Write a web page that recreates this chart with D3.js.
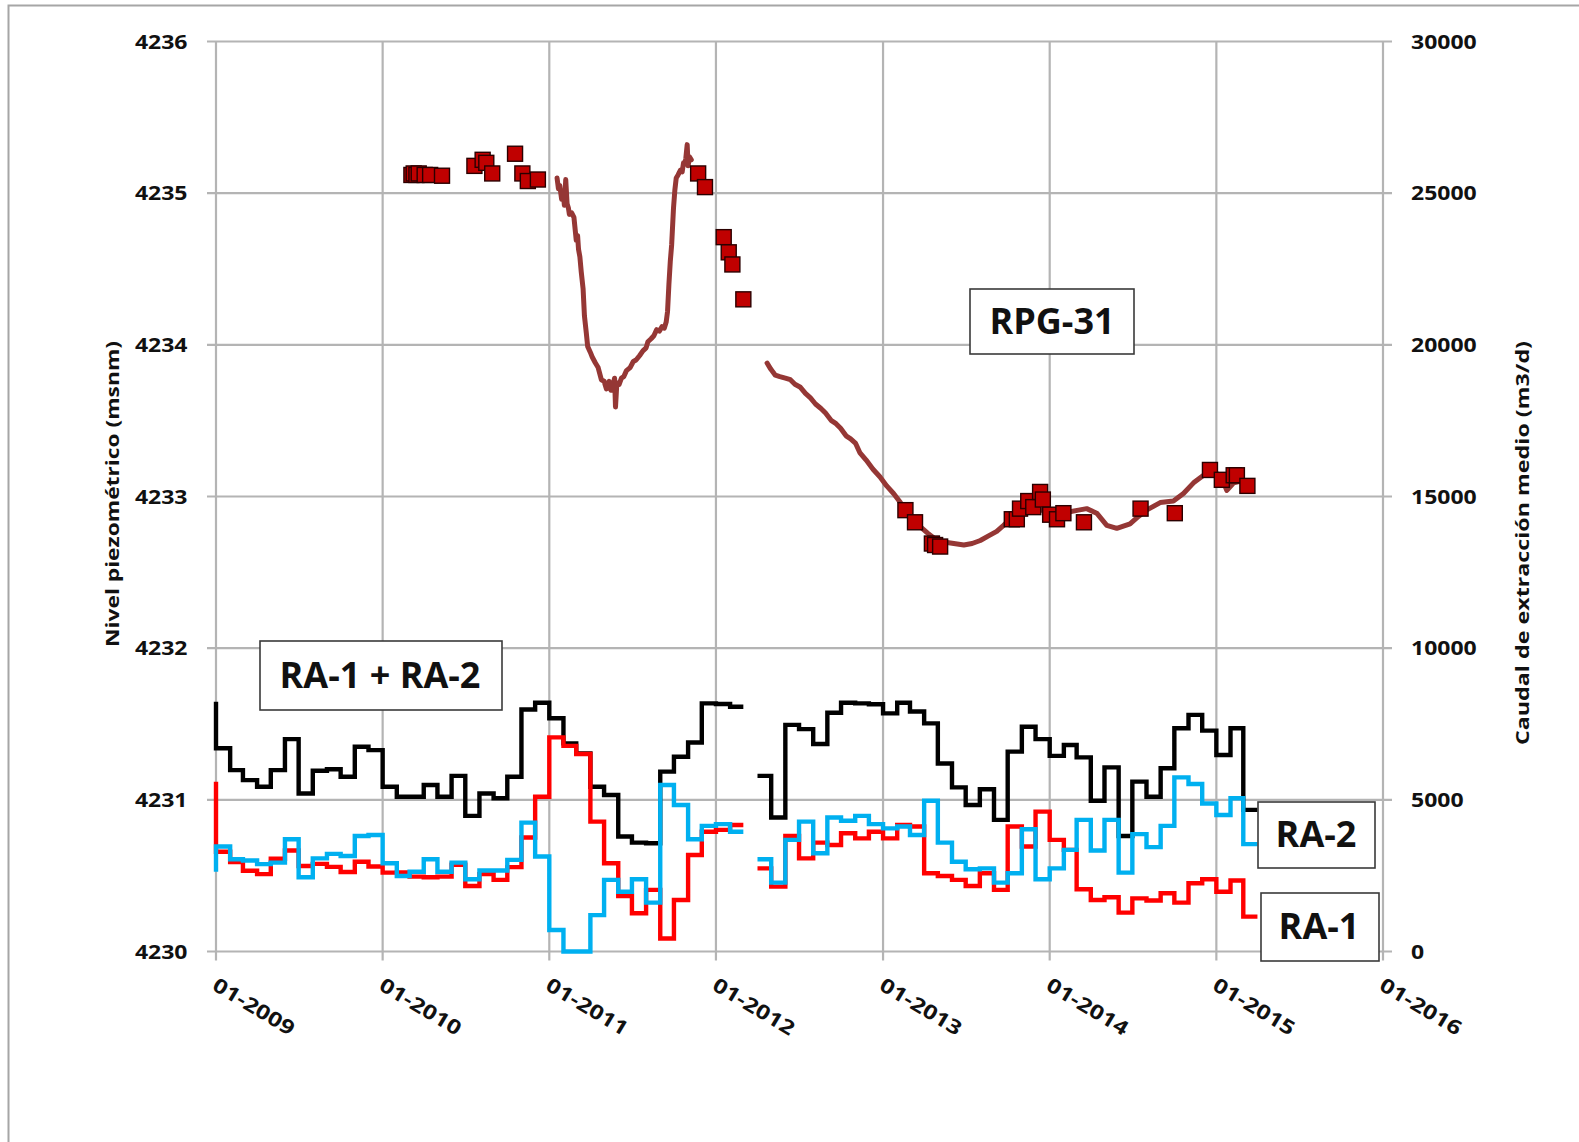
<!DOCTYPE html>
<html><head><meta charset="utf-8">
<script src="https://cdn.jsdelivr.net/npm/d3@7"></script>
<style>body{margin:0;background:#fff} svg{display:block}</style>
</head><body>
<script>
// ---------- DATA ----------
const leftTicks = [4230, 4231, 4232, 4233, 4234, 4235, 4236];
const rightTicks = [0, 5000, 10000, 15000, 20000, 25000, 30000];
const yearTicks = ["2009-01-01","2010-01-01","2011-01-01","2012-01-01","2013-01-01","2014-01-01","2015-01-01","2016-01-01"];
const yearLabels = ["01-2009","01-2010","01-2011","01-2012","01-2013","01-2014","01-2015","01-2016"];

// monthly extraction (m3/d), first month = 01-2009; spike = first instant value
const stepStartMonth = "2009-01-01";
const ra12Spike = 8236, ra1Spike = 5600, ra2Spike = 2630;
const ra12 = [6700,5980,5650,5430,5980,7000,5210,5960,6010,5760,6750,6640,
              5430,5100,5100,5490,5100,5790,4470,5210,5050,5760,7980,8200,
              7690,6860,6530,5430,5160,3790,3590,3570,5930,6420,6890,8180,
              8160,8070,null,5790,4420,7470,7330,6840,7870,8200,8180,8150,
              7850,8200,7910,7520,6200,5410,4830,5350,4340,6590,7410,7000,
              6450,6810,6400,4970,6070,3810,5600,5100,6040,7360,7800,7280,
              6480,7360,4670];
const ra1 = [3290,2950,2660,2550,3060,3330,2820,2890,2790,2620,2960,2800,
             2600,2610,2470,2450,2470,2860,2160,2550,2360,2780,3760,5100,
             7060,6780,6510,4280,2910,1830,1260,2030,430,1700,3180,3950,
             4010,4170,null,2740,2140,3810,3070,3590,3510,3900,3730,3950,
             3730,4170,4120,2580,2490,2360,2160,2580,2030,4120,3460,4610,
             3680,3350,2050,1700,1790,1280,1750,1680,1920,1610,2250,2380,
             1970,2340,1150];
const ra2 = [3460,3040,3000,2880,2930,3700,2450,3070,3220,3150,3810,3840,
             2910,2490,2630,3040,2630,2930,2380,2670,2670,3020,4250,3130,
             710,0,0,1200,2360,1970,2380,1610,5490,4830,3700,4140,
             4200,3950,null,3040,2270,3680,4280,3240,4420,4310,4470,4200,
             4060,4120,3840,4970,3590,2960,2710,2740,2270,2580,4030,2380,
             2740,3350,4340,3330,4340,2600,3870,3440,4140,5740,5520,4880,
             4500,5050,3540];

// RPG-31 continuous level (msnm)
const loggerDates1 = ["2011-01-18","2011-01-21","2011-01-24","2011-01-28","2011-02-01","2011-02-03","2011-02-06","2011-02-09","2011-02-12","2011-02-14","2011-02-19","2011-02-24","2011-03-01","2011-03-04","2011-03-06","2011-03-09","2011-03-12","2011-03-16","2011-03-19","2011-03-23","2011-03-26","2011-04-01","2011-04-05","2011-04-12","2011-04-18","2011-04-25","2011-05-01","2011-05-06","2011-05-12","2011-05-16","2011-05-20","2011-05-24","2011-05-26","2011-05-29","2011-06-03","2011-06-08","2011-06-13","2011-06-19","2011-06-27","2011-07-04","2011-07-10","2011-07-18","2011-07-25","2011-08-01","2011-08-05","2011-08-12","2011-08-18","2011-08-24","2011-08-30","2011-09-05","2011-09-10","2011-09-14","2011-09-17","2011-09-20","2011-09-23","2011-09-26","2011-09-30","2011-10-03","2011-10-06","2011-10-10","2011-10-15","2011-10-19","2011-10-22","2011-10-25","2011-10-27","2011-10-30","2011-11-01","2011-11-04","2011-11-08"];
const loggerLevels1 = [4235.10,4235.03,4235.05,4234.96,4234.99,4234.92,4235.09,4234.93,4234.90,4234.86,4234.87,4234.84,4234.69,4234.72,4234.63,4234.58,4234.48,4234.37,4234.19,4234.08,4233.99,4233.95,4233.92,4233.88,4233.85,4233.77,4233.76,4233.71,4233.76,4233.70,4233.73,4233.78,4233.59,4233.75,4233.74,4233.78,4233.79,4233.83,4233.85,4233.89,4233.90,4233.93,4233.96,4233.98,4234.02,4234.04,4234.06,4234.10,4234.09,4234.12,4234.11,4234.15,4234.22,4234.40,4234.55,4234.66,4234.90,4235.02,4235.10,4235.12,4235.15,4235.14,4235.20,4235.19,4235.23,4235.32,4235.18,4235.24,4235.22];
const loggerDates2 = ["2012-04-22","2012-04-30","2012-05-10","2012-05-20","2012-06-01","2012-06-12","2012-06-22","2012-07-04","2012-07-15","2012-07-26","2012-08-06","2012-08-18","2012-08-28","2012-09-10","2012-09-20","2012-09-30","2012-10-12","2012-10-22","2012-11-02","2012-11-11","2012-11-25","2012-12-10","2012-12-25","2013-01-09","2013-01-24","2013-02-08","2013-02-22","2013-03-09","2013-03-24","2013-04-08","2013-04-25","2013-05-14","2013-06-05","2013-06-27","2013-07-15","2013-08-02","2013-08-20","2013-09-07","2013-09-22","2013-10-06","2013-10-24","2013-11-11","2013-12-01","2013-12-25","2014-01-20","2014-02-14","2014-03-05","2014-03-23","2014-04-14","2014-05-06","2014-05-28","2014-06-26","2014-07-15","2014-08-01","2014-08-31","2014-09-29","2014-10-21","2014-11-12","2014-12-04","2014-12-26","2015-01-10","2015-01-17","2015-01-24","2015-02-08","2015-02-22"];
const loggerLevels2 = [4233.88,4233.84,4233.80,4233.79,4233.78,4233.77,4233.74,4233.72,4233.68,4233.65,4233.61,4233.58,4233.55,4233.50,4233.48,4233.45,4233.40,4233.38,4233.35,4233.29,4233.24,4233.18,4233.13,4233.07,4233.02,4232.96,4232.91,4232.85,4232.80,4232.76,4232.72,4232.70,4232.69,4232.68,4232.69,4232.71,4232.74,4232.77,4232.81,4232.85,4232.88,4232.91,4232.91,4232.91,4232.90,4232.90,4232.91,4232.92,4232.89,4232.81,4232.79,4232.82,4232.87,4232.91,4232.96,4232.97,4233.02,4233.09,4233.14,4233.16,4233.14,4233.09,4233.04,4233.09,4233.10];

// RPG-31 manual measurements (msnm)
const obsDates = ["2010-03-05","2010-03-10","2010-03-16","2010-03-21","2010-04-03","2010-04-15","2010-05-11","2010-07-21","2010-08-08","2010-08-16","2010-08-29","2010-10-18","2010-11-03","2010-11-15","2010-12-07","2011-11-23","2011-12-08","2012-01-18","2012-01-29","2012-02-06","2012-03-01","2013-02-19","2013-03-12","2013-04-18","2013-04-25","2013-05-06","2013-10-10","2013-10-21","2013-10-28","2013-11-15","2013-11-26","2013-12-11","2013-12-17","2014-01-02","2014-01-17","2014-01-31","2014-03-17","2014-07-19","2014-10-02","2014-12-18","2015-01-13","2015-02-08","2015-02-15","2015-03-10"];
const obsLevels = [4235.12,4235.13,4235.12,4235.13,4235.12,4235.12,4235.115,4235.18,4235.22,4235.20,4235.13,4235.26,4235.13,4235.08,4235.09,4235.13,4235.04,4234.71,4234.61,4234.53,4234.30,4232.91,4232.83,4232.69,4232.68,4232.67,4232.85,4232.85,4232.92,4232.97,4232.93,4233.03,4232.98,4232.88,4232.85,4232.89,4232.83,4232.92,4232.89,4233.175,4233.11,4233.14,4233.14,4233.07];

// ---------- DRAWING ----------
const W = 1579, H = 1142;
const svg = d3.select("body").append("svg").attr("width", W).attr("height", H);
const parse = d3.timeParse("%Y-%m-%d");
const X0 = 216, X1 = 1383, Y0 = 951.5, Y1 = 41.5;
const x = d3.scaleTime().domain([parse("2009-01-01"), parse("2016-01-01")]).range([X0, X1]);
const yL = d3.scaleLinear().domain([4230, 4236]).range([Y0, Y1]);
const yR = d3.scaleLinear().domain([0, 30000]).range([Y0, Y1]);
const FONT = "'Open Sans', 'DejaVu Sans', sans-serif";

// outer frame
svg.append("rect").attr("x", 8.5).attr("y", 5.5).attr("width", 1600).attr("height", 1200)
  .attr("fill", "none").attr("stroke", "#a6a6a6").attr("stroke-width", 2);

const grid = svg.append("g").attr("stroke", "#b4b4b4").attr("stroke-width", 2.2);
leftTicks.forEach(t => grid.append("line").attr("x1", X0 - 9).attr("x2", X1 + 9)
  .attr("y1", yL(t)).attr("y2", yL(t)));
yearTicks.forEach(t => grid.append("line").attr("x1", x(parse(t))).attr("x2", x(parse(t)))
  .attr("y1", Y1).attr("y2", Y0 + 9));

// tick labels
const lab = svg.append("g").attr("font-family", FONT).attr("font-weight", 700)
  .attr("font-size", 20).attr("fill", "#111");
leftTicks.forEach(t => lab.append("text").attr("text-anchor", "end")
  .attr("transform", `translate(187.5,${yL(t) + 7}) scale(1.15,1)`).text(t));
rightTicks.forEach(t => lab.append("text").attr("text-anchor", "start")
  .attr("transform", `translate(1411,${yR(t) + 7}) scale(1.15,1)`).text(t));
yearTicks.forEach((t, i) => lab.append("text").attr("text-anchor", "start")
  .attr("transform", `translate(${x(parse(t)) - 5},${989}) rotate(31) scale(1.22,1)`).text(yearLabels[i]));

// axis titles
svg.append("text").attr("font-family", FONT).attr("font-size", 17.5).attr("font-weight", 700)
  .attr("text-anchor", "middle").attr("transform", "translate(119,494) rotate(-90)")
  .attr("textLength", 306).attr("lengthAdjust", "spacingAndGlyphs").attr("fill", "#111")
  .text("Nivel piezométrico (msnm)");
svg.append("text").attr("font-family", FONT).attr("font-size", 17.5).attr("font-weight", 700)
  .attr("text-anchor", "middle").attr("transform", "translate(1529,543) rotate(-90)")
  .attr("textLength", 404).attr("lengthAdjust", "spacingAndGlyphs").attr("fill", "#111")
  .text("Caudal de extracción medio (m3/d)");

// continuous logger line
const lvlLine = d3.line().x(d => x(d.d)).y(d => yL(d.v));
[[loggerDates1, loggerLevels1], [loggerDates2, loggerLevels2]].forEach(([ds, vs]) => {
  const pts = ds.map((d, i) => ({ d: parse(d), v: vs[i] }));
  svg.append("path").attr("d", lvlLine(pts)).attr("fill", "none")
    .attr("stroke", "#953735").attr("stroke-width", 5).attr("stroke-linejoin", "round")
    .attr("stroke-linecap", "round");
});

// manual measurements
const sq = 15;
svg.append("g").selectAll("rect").data(obsDates.map((d, i) => ({ d: parse(d), v: obsLevels[i] })))
  .join("rect").attr("x", d => x(d.d) - sq / 2).attr("y", d => yL(d.v) - sq / 2)
  .attr("width", sq).attr("height", sq).attr("fill", "#c00000")
  .attr("stroke", "#2a0000").attr("stroke-width", 1.4);

// monthly step lines
const t0 = parse(stepStartMonth);
function stepPts(spike, vals) {
  const pts = [{ d: t0, v: spike }];
  vals.forEach((v, i) => {
    if (v == null) { pts.push(null); return; }
    pts.push({ d: d3.timeMonth.offset(t0, i), v });
    pts.push({ d: d3.timeMonth.offset(t0, i + 1), v });
  });
  return pts;
}
const qLine = d3.line().defined(p => p !== null).x(p => x(p.d)).y(p => yR(p.v));
[[ra12Spike, ra12, "#000000"], [ra1Spike, ra1, "#ff0000"], [ra2Spike, ra2, "#00b0f0"]].forEach(([s, v, c]) => {
  svg.append("path").attr("d", qLine(stepPts(s, v))).attr("fill", "none")
    .attr("stroke", c).attr("stroke-width", 4.4).attr("stroke-linejoin", "miter");
});

// label boxes
const boxes = [
  { t: "RPG-31", x: 970, y: 289, w: 164, h: 65, tx: 1052, ty: 334 },
  { t: "RA-1 + RA-2", x: 260, y: 641, w: 242, h: 69, tx: 380, ty: 688 },
  { t: "RA-2", x: 1258, y: 802, w: 117, h: 66, tx: 1316, ty: 847 },
  { t: "RA-1", x: 1261, y: 893, w: 118, h: 68, tx: 1319, ty: 939 }
];
boxes.forEach(b => {
  svg.append("rect").attr("x", b.x).attr("y", b.y).attr("width", b.w).attr("height", b.h)
    .attr("fill", "#fff").attr("stroke", "#3a3a3a").attr("stroke-width", 1.6);
  svg.append("text").attr("x", b.tx).attr("y", b.ty).attr("text-anchor", "middle")
    .attr("font-family", FONT).attr("font-weight", 700).attr("font-size", 36)
    .attr("fill", "#111").text(b.t);
});
</script>
</body></html>
